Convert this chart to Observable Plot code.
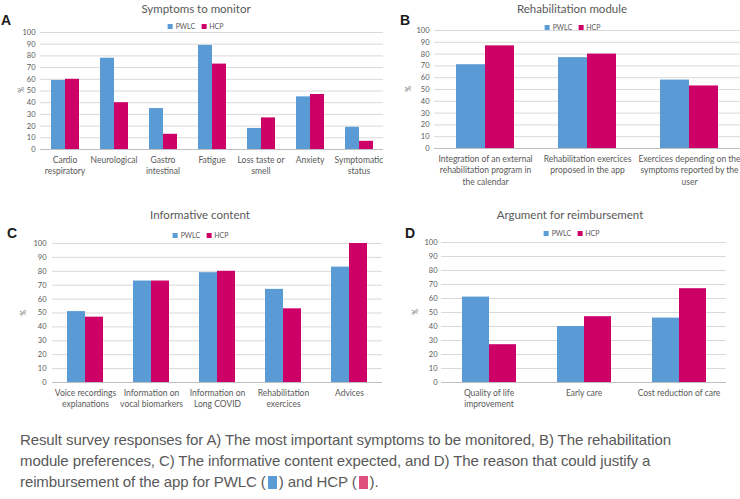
<!DOCTYPE html>
<html>
<head>
<meta charset="utf-8">
<script src="https://cdn.jsdelivr.net/npm/d3@7"></script>
<script src="https://cdn.jsdelivr.net/npm/@observablehq/plot@0.6"></script>
<style>
  body { margin: 0; background: #fff; }
  #root { position: relative; width: 740px; height: 499px; overflow: hidden; font-family: Lato, "Open Sans", sans-serif; }
  .abs { position: absolute; white-space: nowrap; }
  .title { font-size: 11.5px; color: #595959; transform: translate(-50%, -50%); }
  .letter { font-size: 14px; font-weight: bold; color: #1a1a1a; transform: translateY(-50%); font-family: "Liberation Sans", Arial, sans-serif; }
  .legend { font-size: 7px; color: #595959; transform: translate(-50%, -50%); display: flex; align-items: center; gap: 3px; }
  .sw { display: inline-block; width: 5px; height: 5px; }
  .pct { font-size: 7px; color: #595959; transform: translate(-50%, -50%) rotate(-90deg); }
  .caption { left: 20px; top: 429px; font-family: "Liberation Sans", Arial, sans-serif; font-size: 15px; line-height: 21px; color: #595959; letter-spacing: -0.1px; }
  .csw { display: inline-block; width: 9px; height: 13px; vertical-align: -2px; margin: 0 2px; }
  svg { position: absolute; }
</style>
</head>
<body>
<div id="root"></div>
<script>
const series = ["PWLC", "HCP"];
const seriesColors = ["#5B9BD5", "#CC0066"];
const yTicks = [0, 10, 20, 30, 40, 50, 60, 70, 80, 90, 100];

const catsA = ["Cardio\nrespiratory", "Neurological", "Gastro\nintestinal", "Fatigue", "Loss taste or\nsmell", "Anxiety", "Symptomatic\nstatus"];
const pwlcA = [59, 78, 35, 89, 18, 45, 19];
const hcpA  = [60, 40, 13, 73, 27, 47, 7];

const catsB = ["Integration of an external\nrehabilitation program in\nthe calendar", "Rehabilitation exercices\nproposed in the app", "Exercices depending on the\nsymptoms reported by the\nuser"];
const pwlcB = [71, 77, 58];
const hcpB  = [87, 80, 53];

const catsC = ["Voice recordings\nexplanations", "Information on\nvocal biomarkers", "Information on\nLong COVID", "Rehabilitation\nexercices", "Advices"];
const pwlcC = [51, 73, 79, 67, 83];
const hcpC  = [47, 73, 80, 53, 100];

const catsD = ["Quality of life\nimprovement", "Early care", "Cost reduction of care"];
const pwlcD = [61, 40, 46];
const hcpD  = [27, 47, 67];

const root = document.getElementById("root");

function addDiv(cls, html, x, y) {
  const d = document.createElement("div");
  d.className = "abs " + cls;
  d.style.left = x + "px";
  d.style.top = y + "px";
  d.innerHTML = html;
  root.appendChild(d);
  return d;
}

function panel(cats, pwlc, hcp, g) {
  const data = cats.flatMap((c, i) => [
    {cat: c, series: series[0], value: pwlc[i]},
    {cat: c, series: series[1], value: hcp[i]}
  ]);
  const chart = Plot.plot({
    width: g.width, height: g.height,
    marginLeft: g.ml, marginRight: g.mr, marginTop: g.mt, marginBottom: g.mb,
    style: {fontFamily: "Lato, 'Open Sans', sans-serif", fontSize: "7.5px", color: "#595959", background: "transparent", overflow: "visible"},
    fx: {domain: cats, paddingInner: 0, paddingOuter: 0, label: null},
    x: {domain: series, paddingInner: 0, paddingOuter: 0.75, axis: null},
    y: {domain: [0, 100], label: null},
    color: {domain: series, range: seriesColors},
    marks: [
      Plot.ruleY(yTicks, {stroke: "#d9d9d9", strokeWidth: 1}),
      Plot.barY(data, {fx: "cat", x: "series", y: "value", fill: "series"}),
      Plot.ruleY([0], {stroke: "#bfbfbf"}),
      Plot.axisY({ticks: yTicks, tickSize: 0, tickPadding: g.tp, label: null, fontSize: 7.5}),
      Plot.axisFx({anchor: "bottom", tickSize: 0, tickPadding: 5, label: null, lineHeight: 1.35, fontSize: 8.5})
    ]
  });
  chart.style.left = g.left + "px";
  chart.style.top = g.top + "px";
  root.appendChild(chart);
}

panel(catsA, pwlcA, hcpA, {left: 0, top: 0, width: 390, height: 190, ml: 37, mr: 5, mt: 32, mb: 41, tp: 5});
panel(catsB, pwlcB, hcpB, {left: 412, top: 0, width: 328, height: 190, ml: 21, mr: 0, mt: 30, mb: 42, tp: 5});
panel(catsC, pwlcC, hcpC, {left: 0, top: 200, width: 390, height: 220, ml: 50, mr: 6, mt: 43, mb: 38, tp: 6});
panel(catsD, pwlcD, hcpD, {left: 422, top: 200, width: 318, height: 220, ml: 18, mr: 14, mt: 42, mb: 38, tp: 4});

const titles = [["Symptoms to monitor", 196, 8], ["Rehabilitation module", 572, 8], ["Informative content", 200, 214], ["Argument for reimbursement", 570, 214]];
titles.forEach(([t, x, y]) => addDiv("title", t, x, y));

const letters = [["A", 1, 20], ["B", 400, 20], ["C", 7, 233], ["D", 405, 233]];
letters.forEach(([t, x, y]) => addDiv("letter", t, x, y));

const legendHtml = series.map((s, i) => `<span class="sw" style="background:${seriesColors[i]}"></span><span style="margin-right:3px">${s}</span>`).join("");
[[197, 26], [574, 27], [202, 235], [573, 233]].forEach(([x, y]) => addDiv("legend", legendHtml, x, y));

[[21, 90], [408, 89], [23, 313], [415, 312]].forEach(([x, y]) => addDiv("pct", "%", x, y));

addDiv("caption",
  "Result survey responses for A) The most important symptoms to be monitored, B) The rehabilitation<br>" +
  "module preferences, C) The informative content expected, and D) The reason that could justify a<br>" +
  `reimbursement of the app for PWLC (<span class="csw" style="background:#5B9BD5"></span>) and HCP (<span class="csw" style="background:#E0507F"></span>).`,
  20, 429);
</script>
</body>
</html>
